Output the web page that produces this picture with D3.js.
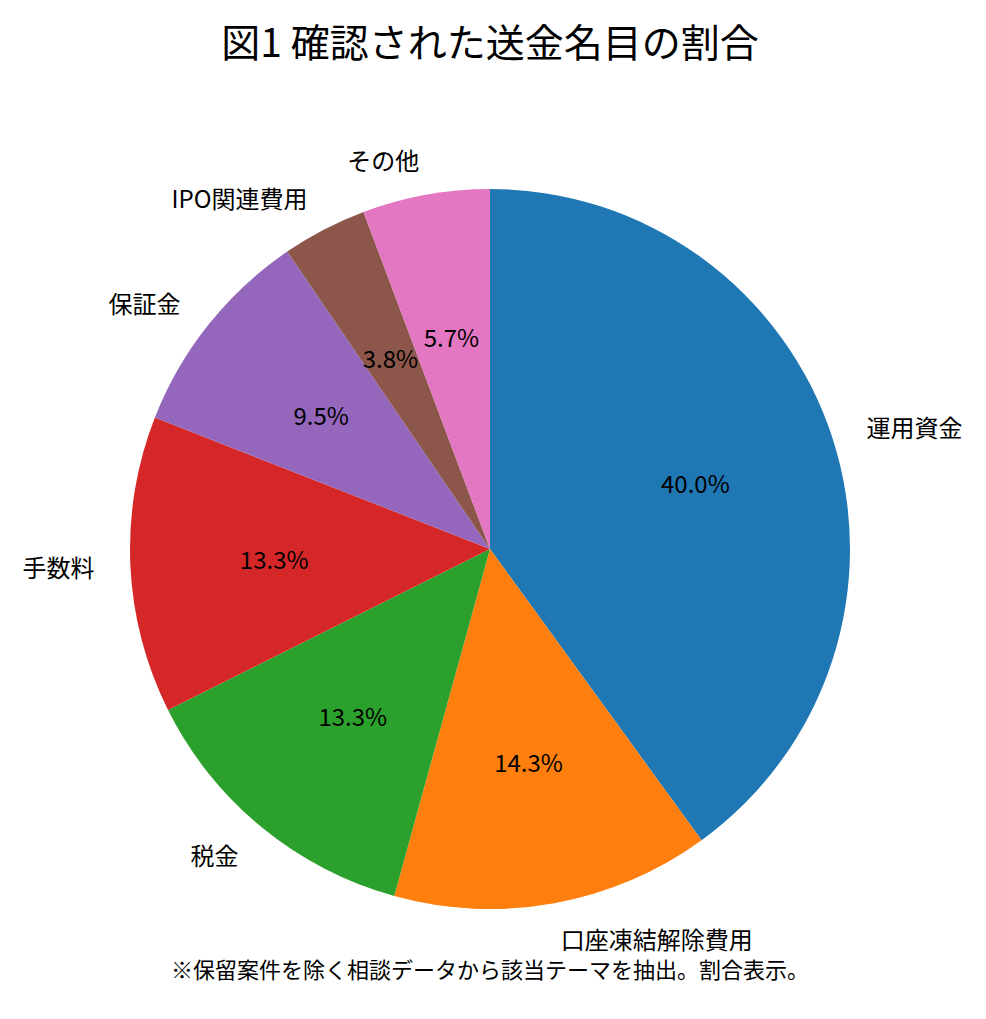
<!DOCTYPE html>
<html>
<head>
  <meta charset="utf-8">
  <title>図1 確認された送金名目の割合</title>
  <script src="https://d3js.org/d3.v7.min.js"></script>
  <style>
    body { margin: 0; background: #fff; }
    text { font-family: "Noto Sans CJK JP", "Noto Sans", sans-serif; fill: #000; }
  </style>
</head>
<body>
<div id="chart"></div>
<script>
// categories and counts (share of 105 cases)
var categories = ["運用資金", "口座凍結解除費用", "税金", "手数料", "保証金", "IPO関連費用", "その他"];
var counts = [42, 15, 14, 14, 10, 4, 6];
var colors = ["#1f77b4", "#ff7f0e", "#2ca02c", "#d62728", "#9467bd", "#8c564b", "#e377c2"];
var title = "図1 確認された送金名目の割合";
var note = "※保留案件を除く相談データから該当テーマを抽出。割合表示。";

var width = 986, height = 1019,
    cx = 490, cy = 549, r = 360;

var svg = d3.select("#chart")
  .append("svg")
    .attr("width", width)
    .attr("height", height);

var total = d3.sum(counts);
var data = categories.map(function(c, i) { return {name: c, value: counts[i], color: colors[i]}; });

var pie = d3.pie()
    .sort(null)
    .value(function(d) { return d.value; })
    .startAngle(0)
    .endAngle(2 * Math.PI);

var arc = d3.arc().innerRadius(0).outerRadius(r);
var arcs = pie(data);

var g = svg.append("g").attr("transform", "translate(" + cx + "," + cy + ")");

g.selectAll("path")
  .data(arcs)
  .enter()
  .append("path")
    .attr("d", arc)
    .attr("fill", function(d) { return d.data.color; });

function mid(d) { return (d.startAngle + d.endAngle) / 2; }

// category labels at 1.1r
g.selectAll(".lbl")
  .data(arcs)
  .enter()
  .append("text")
    .attr("class", "lbl")
    .attr("x", function(d) { return 1.1 * r * Math.sin(mid(d)); })
    .attr("y", function(d) { return -1.1 * r * Math.cos(mid(d)); })
    .attr("text-anchor", function(d) { return Math.sin(mid(d)) > 0 ? "start" : "end"; })
    .attr("dominant-baseline", "central")
    .style("font-size", "24px")
    .text(function(d) { return d.data.name; });

// percentages at 0.6r
g.selectAll(".pct")
  .data(arcs)
  .enter()
  .append("text")
    .attr("class", "pct")
    .attr("x", function(d) { return 0.6 * r * Math.sin(mid(d)); })
    .attr("y", function(d) { return -0.6 * r * Math.cos(mid(d)); })
    .attr("text-anchor", "middle")
    .attr("dominant-baseline", "central")
    .style("font-size", "24px")
    .text(function(d) { return (d.data.value / total * 100).toFixed(1) + "%"; });

svg.append("text")
    .attr("x", cx)
    .attr("y", 40)
    .attr("text-anchor", "middle")
    .attr("dominant-baseline", "central")
    .style("font-size", "39px")
    .text(title);

svg.append("text")
    .attr("x", cx)
    .attr("y", 968)
    .attr("text-anchor", "middle")
    .attr("dominant-baseline", "central")
    .style("font-size", "22px")
    .text(note);
</script>
</body>
</html>
